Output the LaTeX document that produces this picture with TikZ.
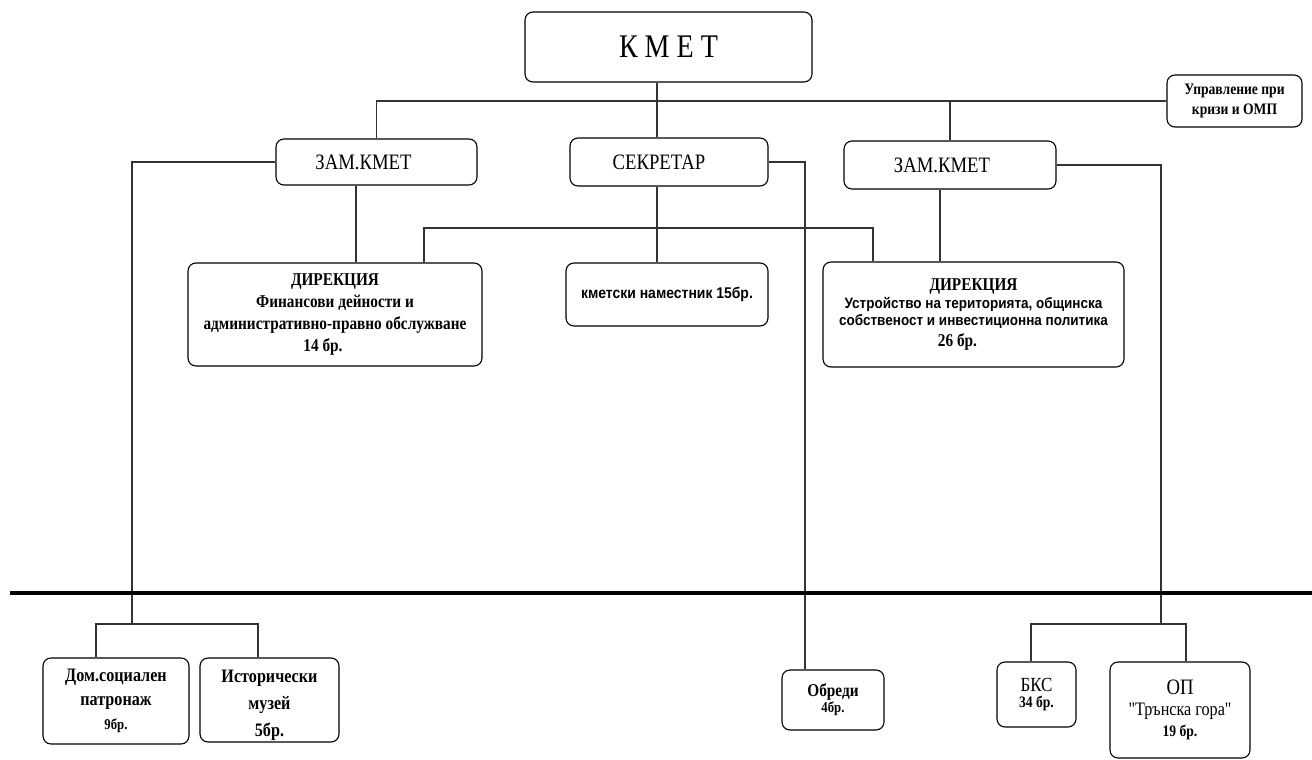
\documentclass[tikz,border=0pt]{standalone}
\usepackage{fontspec}
\setmainfont{Liberation Serif}
\newfontfamily\serifc{Liberation Serif}[FakeStretch=0.85]
\newfontfamily\sansc{Liberation Sans}[FakeStretch=0.9]
\usetikzlibrary{positioning,calc}
\newcommand\fs[2]{\fontsize{#1}{#2}\selectfont}

\tikzset{
	unit/.style={draw, rounded corners=8pt, line width=1.1pt, inner sep=0pt, align=center, font=\serifc},
	link/.style={draw=black!80, line width=1.1pt},
	divider/.style={draw=black, line width=4pt},
}

\begin{document}
\begin{tikzpicture}[x=1pt, y=-1pt]
	\useasboundingbox (0,0) rectangle (1312,760);
	% top level
	\node [unit, minimum width=287, minimum height=70, font=\serifc\fs{33}{36}] (kmet) at (668.5,47) {К М Е Т};
	\node [unit, minimum width=135, minimum height=52, font=\serifc\bfseries\fs{16}{20}] (upr) at (1234.5,101) {Управление при\\кризи и ОМП};
	\node [unit, minimum width=201, minimum height=46, font=\serifc\fs{22}{24}] (zam1) at (376.5,162) {ЗАМ.КМЕТ\hspace*{26pt}};
	\node [unit, minimum width=198, minimum height=48, font=\serifc\fs{22}{24}] (sek) at (669,162) {СЕКРЕТАР\hspace*{20pt}};
	\node [unit, minimum width=212, minimum height=48, font=\serifc\fs{22}{24}] (zam2) at (950,165) {ЗАМ.КМЕТ\hspace*{16pt}};
	% directorates
	\node [unit, minimum width=294, minimum height=103, font=\serifc\bfseries\fs{18}{22}] (dir1) at (335,314.5)
		{ДИРЕКЦИЯ\\Финансови дейности и\\административно-правно обслужване\\\hspace*{-24pt}14 бр.};
	\node [unit, minimum width=202, minimum height=63, font=\sansc\bfseries\fs{15.5}{18}] (nam) at (667,294.5) {кметски наместник 15бр.};
	\node [unit, minimum width=301, minimum height=105, font=\serifc\fs{15}{17}] (dir2) at (973.5,314.5)
		{{\bfseries\fs{18}{20}ДИРЕКЦИЯ}\\[1pt]{\sansc\bfseries Устройство на територията, общинска}\\{\sansc\bfseries собственост и инвестиционна политика}\\[4pt]\hspace*{-32pt}{\bfseries\fs{18}{20}26 бр.}};
	% lower units
	\node [unit, minimum width=146, minimum height=86, font=\serifc\bfseries\fs{19}{24}] (dom) at (116,701) {Дом.социален\\патронаж\\{\fs{15}{16}9бр.}};
	\node [unit, minimum width=139, minimum height=84, font=\serifc\bfseries\fs{19}{27}] (ist) at (269.5,700) {\rule{0pt}{24pt}Исторически\\музей\\5бр.};
	\node [unit, minimum width=102, minimum height=60, font=\serifc\bfseries\fs{18}{16}] (obr) at (833,700) {Обреди\\{\fs{15}{16}4бр.}};
	\node [unit, minimum width=79, minimum height=65, font=\serifc\fs{20}{16}] (bks) at (1036.5,694.5) {БКС\\{\bfseries\fs{16}{18}34 бр.}};
	\node [unit, minimum width=140, minimum height=96, font=\serifc\fs{22}{21}] (op) at (1180,710) {ОП\\{\fs{19}{20}"Трънска гора"}\\{\bfseries\fs{16}{18}19 бр.}};
	% line positions
	\coordinate (spine) at (657,0);
	\coordinate (xL) at (356,0);
	\coordinate (xR) at (940,0);
	\coordinate (xO) at (805,0);
	\coordinate (dA) at (424,228);
	\coordinate (dB) at (873,228);
	\coordinate (jL) at (132,624);
	\coordinate (bL1) at (96,624);
	\coordinate (bL2) at (258,624);
	\coordinate (jR) at (1161,624);
	\coordinate (bR1) at (1031,624);
	\coordinate (bR2) at (1186,624);
	% connectors
	\draw [link] (zam1.north) |- (upr.west);
	\draw [link] (kmet.south -| spine) -- (sek.north -| spine);
	\draw [link] (zam2.north) -- (zam2.north |- upr.west);
	\draw [link] (sek.south -| spine) -- (nam.north -| spine);
	\draw [link] (zam1.south -| xL) -- (dir1.north -| xL);
	\draw [link] (zam2.south -| xR) -- (dir2.north -| xR);
	\draw [link] (dir1.north -| dA) -- (dA) -- (dB) -- (dir2.north -| dB);
	\draw [link] (zam1.west) -| (jL);
	\draw [link] (dom.north -| bL1) -- (bL1) -- (bL2) -- (ist.north -| bL2);
	\draw [link] (sek.east) -| (obr.north -| xO);
	\draw [link] (zam2.east) -| (jR);
	\draw [link] (bks.north -| bR1) -- (bR1) -- (bR2) -- (op.north -| bR2);
	% dividing line
	\draw [divider] (10,593) -- (1312,593);
\end{tikzpicture}
\end{document}
